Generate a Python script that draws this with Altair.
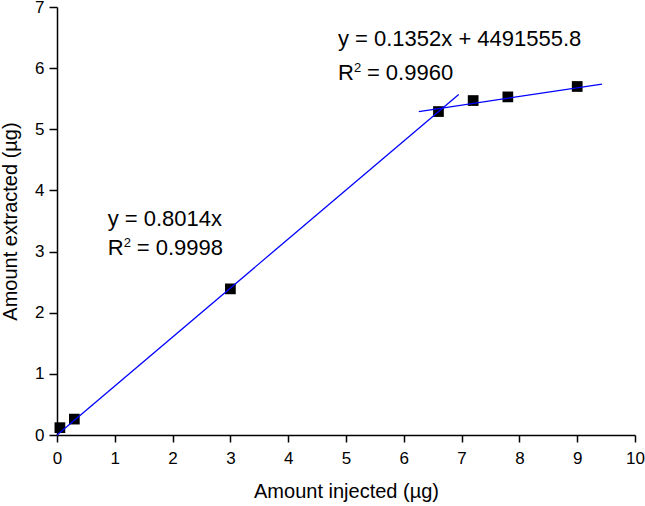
import altair as alt
import pandas as pd

# Measured amounts (µg)
injected = [0.05, 0.3, 3.0, 6.6, 7.2, 7.8, 9.0]
extracted = [0.12, 0.26, 2.39, 5.29, 5.47, 5.53, 5.70]

# Linear fit through the origin for the low range
fit1_slope = 0.8014
fit1_x = [0.0, 6.95]
# Fit over the saturated range (end points of the drawn segment)
fit2_x = [6.26, 9.43]
fit2_y = [5.29, 5.74]

# Major ticks at integers, minor ticks halfway between
x_ticks = [i * 0.5 for i in range(0, 21)]
y_ticks = [i * 0.5 for i in range(0, 15)]

FONT = "Liberation Sans"

points = pd.DataFrame({"x": injected, "y": extracted})
fits = pd.DataFrame({
    "x": fit1_x + fit2_x,
    "y": [fit1_slope * v for v in fit1_x] + fit2_y,
    "fit": ["low", "low", "high", "high"],
})

xs = alt.Scale(domain=[0, 10], nice=False, zero=False)
ys = alt.Scale(domain=[0, 7], nice=False, zero=False)

is_minor = "datum.value % 1 !== 0"

axis_common = dict(
    domainColor="black", domainWidth=1.5, tickColor="black", tickWidth=1.5,
    labelFont=FONT, labelFontSize=17, labelColor="black",
    titleFont=FONT, titleFontSize=20, titleFontWeight="normal", titleColor="black",
    grid=False, labelExpr="datum.value % 1 === 0 ? datum.label : ''",
    labelFlush=False, labelOverlap=False,
)

x_axis = alt.Axis(values=x_ticks, labelPadding=8, titlePadding=15,
                  tickSize={"condition": {"test": is_minor, "value": 4}, "value": 7},
                  title="Amount injected (µg)", format="d", **axis_common)
y_axis = alt.Axis(values=y_ticks, labelPadding=5, titlePadding=14,
                  tickSize={"condition": {"test": is_minor, "value": 4}, "value": 8},
                  title="Amount extracted (µg)", format="d", **axis_common)

pts = alt.Chart(points).mark_square(size=115, color="black", opacity=1).encode(
    x=alt.X("x:Q", scale=xs, axis=x_axis),
    y=alt.Y("y:Q", scale=ys, axis=y_axis),
)

lines = alt.Chart(fits).mark_line(color="#0000ff", strokeWidth=1.3).encode(
    x=alt.X("x:Q", scale=xs),
    y=alt.Y("y:Q", scale=ys),
    detail="fit:N",
)

ANN = 22


def label(text, x, y, dx=0, dy=0, size=ANN):
    return alt.Chart(pd.DataFrame({"t": [text]})).mark_text(
        font=FONT, fontSize=size, align="left", baseline="alphabetic",
        color="black", dx=dx, dy=dy,
    ).encode(
        x=alt.XDatum(x, scale=xs),
        y=alt.YDatum(y, scale=ys),
        text="t:N",
    )


annotations = [
    label("y = 0.8014x", 0.877, 3.42),
    label("R", 0.877, 2.95),
    label("2", 0.877, 2.95, dx=16, dy=-8, size=13),
    label("= 0.9998", 0.877, 2.95, dx=29),
    label("y = 0.1352x + 4491555.8", 4.86, 6.36),
    label("R", 4.86, 5.81),
    label("2", 4.86, 5.81, dx=16, dy=-8, size=13),
    label("= 0.9960", 4.86, 5.81, dx=29),
]

chart = alt.layer(pts, lines, *annotations).properties(
    width=578, height=428,
    autosize=alt.AutoSizeParams(type="none"),
    padding={"left": 57, "top": 7, "right": 10, "bottom": 71},
).configure(
    background="white",
    view=alt.ViewConfig(stroke="transparent", strokeWidth=0),
)

chart.save("out.html", embed_options={"renderer": "svg", "actions": False})
